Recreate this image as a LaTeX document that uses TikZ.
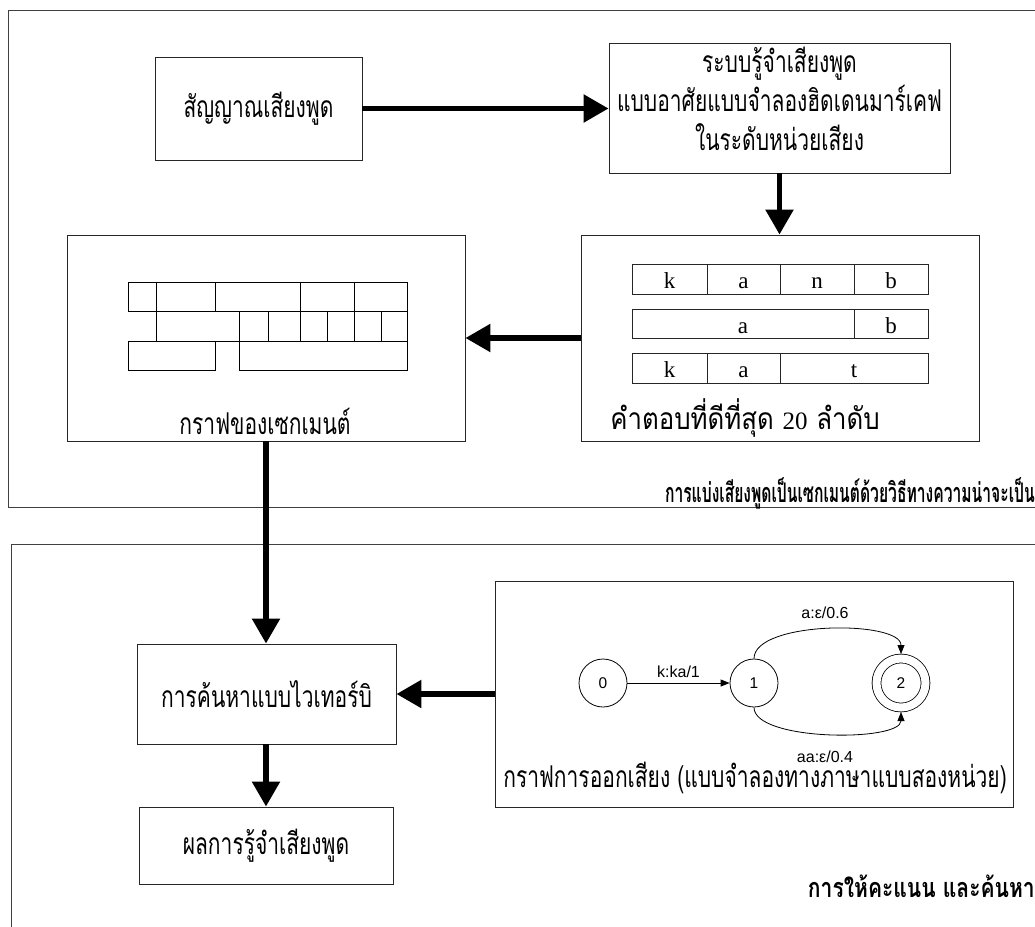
\documentclass[tikz,border=0pt]{standalone}
\usepackage{fontspec}
\setmainfont{Liberation Serif}
\newfontfamily\thai[Script=Thai,FakeStretch=0.7]{Loma}
\newfontfamily\thaiwide[Script=Thai,FakeStretch=0.86]{Loma}
\newfontfamily\thaihead[Script=Thai,FakeStretch=0.58]{Loma}
\newfontfamily\thaifoot[Script=Thai,FakeStretch=0.78]{Loma}
\newfontfamily\fstfont{Liberation Sans}
\usetikzlibrary{arrows.meta}

\tikzset{
  frame/.style={draw=black!75, line width=1pt},
  box/.style={draw=black!85, line width=0.9pt, inner sep=0pt, align=center,
              font=\thai\fontsize{30}{39}\selectfont},
  thaitext/.style={inner sep=0pt, align=center, font=\thai\fontsize{30}{39}\selectfont},
  heading/.style={inner sep=0pt, font=\thaihead\bfseries\fontsize{27}{30}\selectfont},
  footing/.style={inner sep=0pt, font=\thaifoot\bfseries\fontsize{27}{30}\selectfont},
  bigarrow/.style={line width=5.5pt, -{Triangle[length=25pt,width=27pt]}},
  cell/.style={draw=black!85, line width=0.8pt, inner sep=0pt,
               text height=20pt, text depth=1pt,
               font=\fontsize{23}{26}\selectfont},
  seg/.style={draw=black, line width=0.8pt},
  state/.style={circle, draw=black, line width=0.8pt, minimum size=48pt,
                inner sep=0pt, font=\fstfont\fontsize{15.5}{18}\selectfont},
  fstedge/.style={line width=0.8pt, -{Triangle[length=9pt,width=7pt]}},
  fstlabel/.style={inner sep=0pt, font=\fstfont\fontsize{16}{18}\selectfont}
}

\begin{document}
\begin{tikzpicture}[x=1pt,y=-1pt]
\useasboundingbox (0,0) rectangle (1035,926);
\clip (0,0) rectangle (1035,926);
\fill[white] (0,0) rectangle (1035,926);

% the two stage frames
\draw[frame] (8,10) rectangle (1060,507);
\draw[frame] (11,544) rectangle (1060,960);

% ---- stage 1: segmentation ----
\node[box, minimum width=207pt, minimum height=103pt] (signal) at (258.5,108.5)
  {สัญญาณเสียงพูด};
\node[box, minimum width=341pt, minimum height=130pt] (hmm) at (779.5,108) {};
\node[thaitext] (hmmtext) at (779.5,99)
  {ระบบรู้จำเสียงพูด\\แบบอาศัยแบบจำลองฮิดเดนมาร์เคฟ\\ในระดับหน่วยเสียง};
\node[box, minimum width=398pt, minimum height=206pt] (seggraph) at (266,338) {};
\node[box, minimum width=398pt, minimum height=206pt] (nbest) at (780,338) {};

% segment lattice
\draw[seg] (128,282) rectangle (156,311);
\draw[seg] (156,282) rectangle (215,311);
\draw[seg] (215,282) rectangle (300,311);
\draw[seg] (300,282) rectangle (354,311);
\draw[seg] (354,282) rectangle (407,311);
\draw[seg] (156,311) rectangle (239,341);
\draw[seg] (239,311) rectangle (268,341);
\draw[seg] (268,311) rectangle (300,341);
\draw[seg] (300,311) rectangle (327,341);
\draw[seg] (327,311) rectangle (354,341);
\draw[seg] (354,311) rectangle (381,341);
\draw[seg] (381,311) rectangle (407,341);
\draw[seg] (128,341) rectangle (215,370);
\draw[seg] (239,341) rectangle (407,370);
\node[thaitext] (seglabel) at (265,421) {กราฟของเซกเมนต์};

% n-best answers
\node[cell, minimum width=75pt, minimum height=30pt] (r1a) at (669.5,279) {k};
\node[cell, minimum width=73pt, minimum height=30pt] (r1b) at (743.5,279) {a};
\node[cell, minimum width=74pt, minimum height=30pt] (r1c) at (817,279) {n};
\node[cell, minimum width=74pt, minimum height=30pt] (r1d) at (891,279) {b};
\node[cell, minimum width=222pt, minimum height=29pt] (r2a) at (743,323.5) {a};
\node[cell, minimum width=74pt, minimum height=29pt] (r2b) at (891,323.5) {b};
\node[cell, minimum width=75pt, minimum height=30pt] (r3a) at (669.5,368) {k};
\node[cell, minimum width=73pt, minimum height=30pt] (r3b) at (743.5,368) {a};
\node[cell, minimum width=148pt, minimum height=30pt] (r3c) at (854,368) {t};
\node[thaitext, font=\thaiwide\fontsize{30}{34}\selectfont] (nbestlabel) at (745,418)
  {คำตอบที่ดีที่สุด {\rmfamily\fontsize{25}{26}\selectfont 20} ลำดับ};

\node[heading, anchor=east] (title1) at (1035,493)
  {การแบ่งเสียงพูดเป็นเซกเมนต์ด้วยวิธีทางความน่าจะเป็น};

% ---- stage 2: scoring and search ----
\node[box, minimum width=259pt, minimum height=100pt] (viterbi) at (266.5,694)
  {การค้นหาแบบไวเทอร์บิ};
\node[box, minimum width=254pt, minimum height=77pt] (result) at (266,845.5)
  {ผลการรู้จำเสียงพูด};
\node[box, minimum width=518pt, minimum height=226pt] (pron) at (754,694) {};
\node[thaitext, font=\thai\fontsize{30}{34}\selectfont] (pronlabel) at (755,778)
  {กราฟการออกเสียง (แบบจำลองทางภาษาแบบสองหน่วย)};

% pronunciation transducer
\node[state] (s0) at (603,683) {0};
\node[state] (s1) at (754,683) {1};
\node[state, minimum size=49pt, double, double distance=8pt, outer sep=4.5pt] (s2) at (901,683) {2};
\draw[fstedge] (s0) -- node[fstlabel, above=5pt] (e01) {k:ka/1} (s1);
\draw[fstedge] (s1.north) .. controls +(0,-38) and +(0,-34) .. (s2.north);
\draw[fstedge] (s1.south) .. controls +(0,34) and +(0,30) .. (s2.south);
\node[fstlabel] (e12a) at (825,613) {a:ε/0.6};
\node[fstlabel] (e12b) at (825,757) {aa:ε/0.4};

\node[footing, anchor=east] (title2) at (1035,886) {การให้คะแนน และค้นหา};

% ---- flow arrows ----
\draw[bigarrow] (signal.east) -- (hmm.west |- signal.east);
\draw[bigarrow] (hmm.south) -- (nbest.north -| hmm.south);
\draw[bigarrow] (nbest.west) -- (seggraph.east);
\draw[bigarrow] (seggraph.south) -- (viterbi.north -| seggraph.south);
\draw[bigarrow] (pron.west) -- (viterbi.east);
\draw[bigarrow] (viterbi.south -| result.north) -- (result.north);
\end{tikzpicture}
\end{document}
